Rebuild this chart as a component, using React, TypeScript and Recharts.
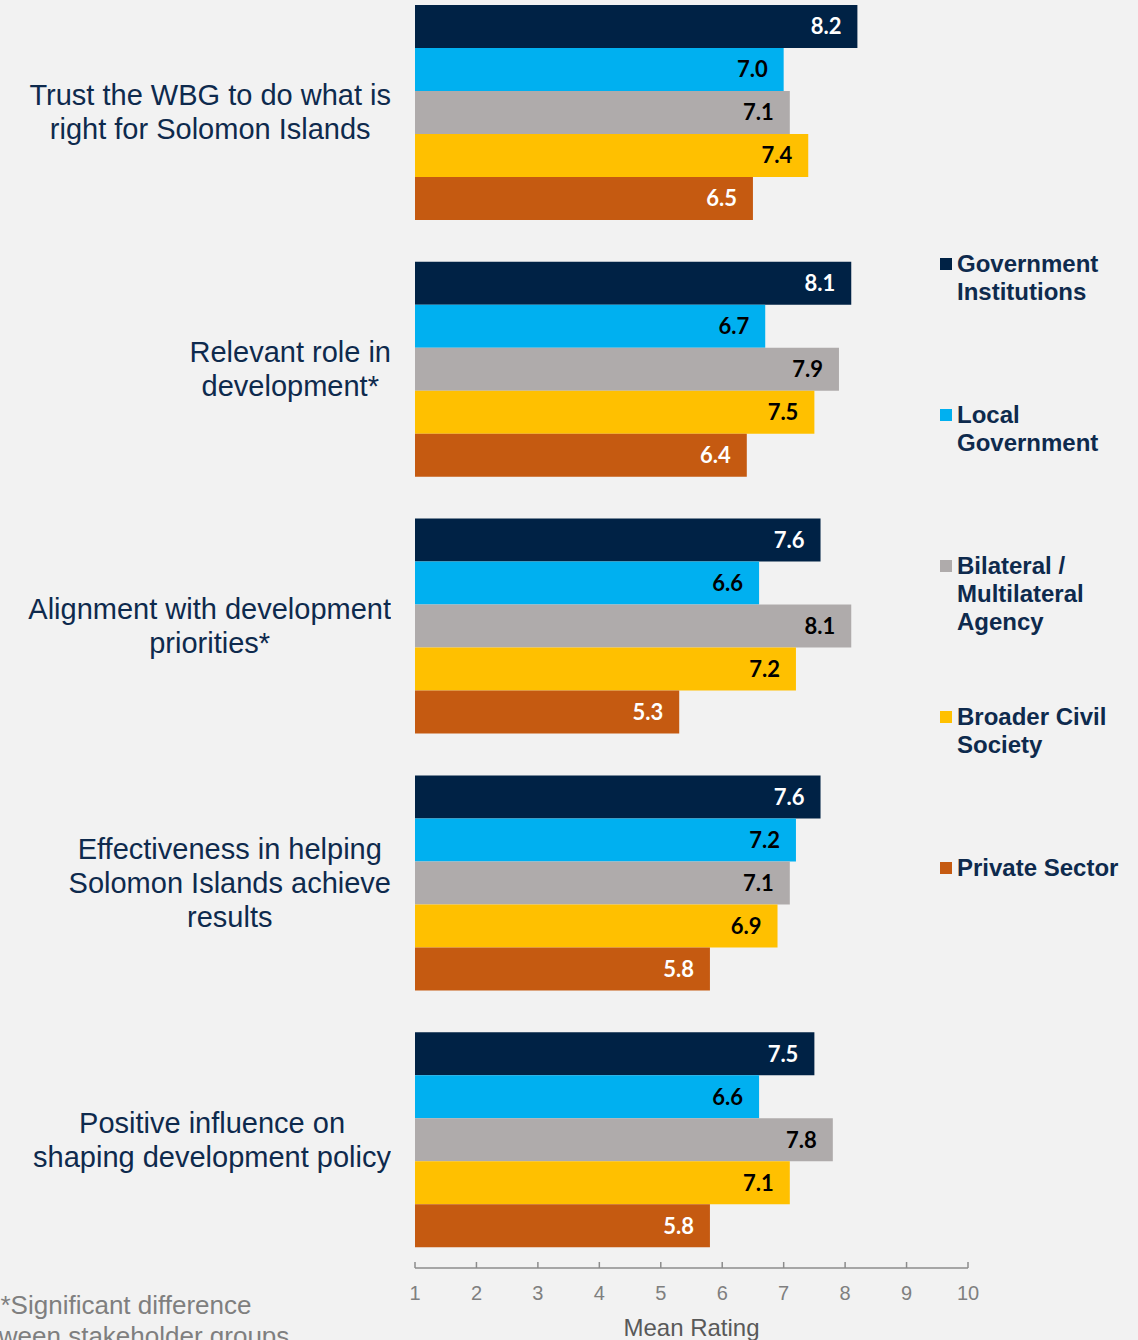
import { Bar, BarChart, LabelList, XAxis, YAxis } from 'recharts'

// rating questions (line breaks as in the slide)
const categories = [
	'Trust the WBG to do what is\nright for Solomon Islands',
	'Relevant role in\ndevelopment*',
	'Alignment with development\npriorities*',
	'Effectiveness in helping\nSolomon Islands achieve\nresults',
	'Positive influence on\nshaping development policy',
]

const governmentInstitutions = [8.2, 8.1, 7.6, 7.6, 7.5]
const localGovernment = [7.0, 6.7, 6.6, 7.2, 6.6]
const bilateralMultilateral = [7.1, 7.9, 8.1, 7.1, 7.8]
const broaderCivilSociety = [7.4, 7.5, 7.2, 6.9, 7.1]
const privateSector = [6.5, 6.4, 5.3, 5.8, 5.8]

const xTicks = [1, 2, 3, 4, 5, 6, 7, 8, 9, 10]

const SERIES = [
	{ key: 'gov', name: 'Government\nInstitutions', values: governmentInstitutions, color: '#002245', text: '#ffffff' },
	{ key: 'local', name: 'Local\nGovernment', values: localGovernment, color: '#00B0F0', text: '#000000' },
	{ key: 'bilat', name: 'Bilateral /\nMultilateral\nAgency', values: bilateralMultilateral, color: '#AFABAB', text: '#000000' },
	{ key: 'civil', name: 'Broader Civil\nSociety', values: broaderCivilSociety, color: '#FFC000', text: '#000000' },
	{ key: 'private', name: 'Private Sector', values: privateSector, color: '#C55A11', text: '#ffffff' },
]

const data = categories.map((name, i) => {
	const row: any = { name }
	SERIES.forEach((s) => (row[s.key] = s.values[i]))
	return row
})

const NAVY = '#0E2A4D'
const AXIS_GRAY = '#8C8C8C'

function CategoryTick({ y, payload }: any) {
	return (
		<foreignObject x={0} y={y - 70} width={391} height={140}>
			<div
				style={{
					display: 'flex',
					height: '100%',
					alignItems: 'center',
					justifyContent: 'flex-end',
				}}
			>
				<div
					style={{
						textAlign: 'center',
						whiteSpace: 'pre-line',
						fontFamily: '"Liberation Sans", Arial, sans-serif',
						fontSize: 29,
						lineHeight: '34px',
						color: NAVY,
					}}
				>
					{payload.value}
				</div>
			</div>
		</foreignObject>
	)
}

function RatingTick({ x, y, payload }: any) {
	return (
		<g>
			<line x1={x} x2={x} y1={y - 6} y2={y} stroke={AXIS_GRAY} strokeWidth={1.5} />
			<text
				x={x}
				y={y + 32}
				textAnchor='middle'
				fill='#7F7F7F'
				fontSize={20}
				fontFamily='"Liberation Sans", Arial, sans-serif'
			>
				{payload.value}
			</text>
		</g>
	)
}

export default function App() {
	return (
		<div
			style={{
				position: 'absolute',
				top: 0,
				left: 0,
				width: 1138,
				height: 1340,
				background: '#F2F2F2',
				overflow: 'hidden',
			}}
		>
			<div style={{ position: 'absolute', top: -16, left: 0 }}>
				<BarChart
					width={1138}
					height={1356}
					data={data}
					layout='vertical'
					margin={{ top: 0, right: 170, bottom: 0, left: 0 }}
					barCategoryGap={21}
					barGap={0}
				>
					<XAxis
						type='number'
						domain={[1, 10]}
						ticks={xTicks}
						interval={0}
						allowDataOverflow
						height={72}
						tickSize={0}
						tickMargin={0}
						tickLine={false}
						axisLine={{ stroke: AXIS_GRAY, strokeWidth: 1.5 }}
						tick={<RatingTick />}
						label={{
							value: 'Mean Rating',
							position: 'insideBottom',
							offset: 4,
							fill: '#595959',
							fontSize: 24,
							fontFamily: '"Liberation Sans", Arial, sans-serif',
						}}
					/>
					<YAxis
						type='category'
						dataKey='name'
						width={415}
						axisLine={false}
						tickLine={false}
						tick={<CategoryTick />}
					/>
					{SERIES.map((s) => (
						<Bar key={s.key} dataKey={s.key} name={s.name} fill={s.color} isAnimationActive={false}>
							<LabelList
								dataKey={s.key}
								position='insideRight'
								offset={16}
								formatter={(v: any) => Number(v).toFixed(1)}
								fill={s.text}
								fontSize={22}
								fontWeight={700}
								fontFamily='Lato, "Open Sans", sans-serif'
							/>
						</Bar>
					))}
				</BarChart>
			</div>

			{/* legend */}
			{SERIES.map((s, i) => (
				<div
					key={s.key}
					style={{
						position: 'absolute',
						left: 940,
						top: 250 + i * 151,
						display: 'flex',
						alignItems: 'flex-start',
						fontFamily: '"Liberation Sans", Arial, sans-serif',
						fontWeight: 700,
						fontSize: 24,
						lineHeight: '28px',
						color: NAVY,
						whiteSpace: 'pre-line',
					}}
				>
					<span
						style={{
							display: 'inline-block',
							width: 12,
							height: 12,
							background: s.color,
							marginTop: 8,
							marginRight: 5,
						}}
					/>
					<span>{s.name}</span>
				</div>
			))}

			<div
				style={{
					position: 'absolute',
					left: -74,
					top: 1290,
					width: 400,
					textAlign: 'center',
					fontFamily: '"Liberation Sans", Arial, sans-serif',
					fontSize: 26,
					lineHeight: '31px',
					color: '#7F7F7F',
				}}
			>
				*Significant difference
				<br />
				between stakeholder groups
			</div>
		</div>
	)
}
